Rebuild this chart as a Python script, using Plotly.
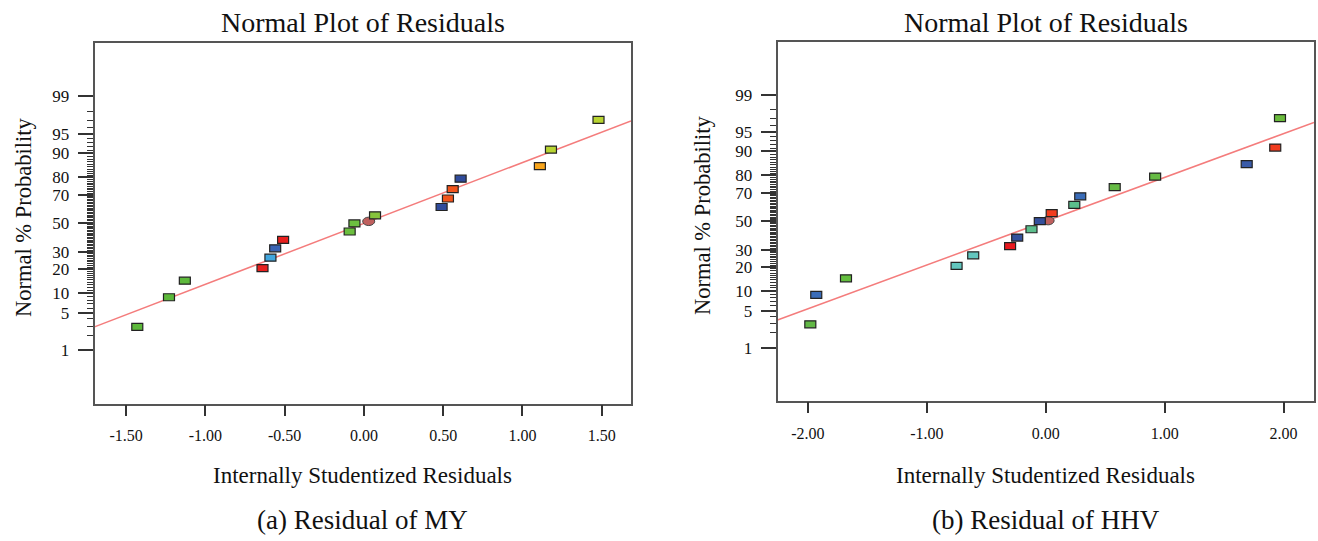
import plotly.graph_objects as go
from statistics import NormalDist

# ---------------- data ----------------
prob_ticks = [1, 5, 10, 20, 30, 50, 70, 80, 90, 95, 99]
prob_tick_text = ["1", "5", "10", "20", "30", "50", "70", "80", "90", "95", "99"]
minor_probs = [p for p in range(1, 100) if p not in prob_ticks]

my_x_ticks = [-1.5, -1.0, -0.5, 0.0, 0.5, 1.0, 1.5]
my_x_text = ["-1.50", "-1.00", "-0.50", "0.00", "0.50", "1.00", "1.50"]
hhv_x_ticks = [-2.0, -1.0, 0.0, 1.0, 2.0]
hhv_x_text = ["-2.00", "-1.00", "0.00", "1.00", "2.00"]

# (a) Residual of MY
my_resid = [-1.43, -1.23, -1.13, -0.64, -0.59, -0.56, -0.51, -0.09, -0.06,
            0.07, 0.49, 0.53, 0.56, 0.61, 1.11, 1.18, 1.48]
my_prob = [2.9, 8.8, 14.7, 20.6, 26.5, 32.4, 38.2, 44.1, 50.0,
           55.9, 61.8, 67.6, 73.5, 79.4, 85.3, 91.2, 97.1]
my_colors = ["#5CB83A", "#5CB83A", "#5EBA3C", "#E8201E", "#41A6DE", "#3B64B4",
             "#E8201E", "#6CBF3F", "#6CBF3F", "#86C43C", "#2F4B9B", "#F2541C",
             "#F2541C", "#2F4B9B", "#F7A41B", "#B8D432", "#B8D432"]
my_center = [0.03]
my_center_prob = [51.5]
my_fit_slope = 1.115
my_fit_intercept = 0.0

# (b) Residual of HHV
hhv_resid = [-1.98, -1.93, -1.68, -0.75, -0.61, -0.30, -0.24, -0.12, -0.05,
             0.05, 0.24, 0.29, 0.58, 0.92, 1.69, 1.93, 1.97]
hhv_prob = [2.9, 8.8, 14.7, 20.6, 26.5, 32.4, 38.2, 44.1, 50.0,
            55.9, 61.8, 67.6, 73.5, 79.4, 85.3, 91.2, 97.1]
hhv_colors = ["#62B846", "#3A6CB8", "#63BE3E", "#62C6BE", "#62C6BE", "#E8191E",
              "#34509C", "#5CBE8C", "#34509C", "#F23C1E", "#5CBE8C", "#3A6CB8",
              "#66BB44", "#66BB44", "#3A5BA8", "#F03C1E", "#6ABB3C"]
hhv_center = [0.02]
hhv_center_prob = [50.4]
hhv_fit_slope = 0.805
hhv_fit_intercept = 0.0

# ---------------- helpers ----------------
nd = NormalDist()


def z(p):
    return nd.inv_cdf(p / 100.0)


W, H = 1318, 541
FONT = "Liberation Serif, Times New Roman, serif"
AXIS_COL = "#555555"
LINE_COL = "#F47C7C"

my_xrange = [-1.70, 1.685]
hhv_xrange = [-2.256, 2.256]
yrange = [-3.30, 3.30]

fig = go.Figure()


def add_panel(xs, probs, colors, cx, cp, slope, intercept, xr, xref, yref, name):
    # fitted line
    lx = [xr[0], xr[1]]
    ly = [slope * v + intercept for v in lx]
    fig.add_trace(go.Scatter(x=lx, y=ly, mode="lines", xaxis=xref, yaxis=yref,
                             line=dict(color=LINE_COL, width=1.5),
                             hoverinfo="skip", showlegend=False))
    zs = [z(p) for p in probs]
    # hover-only trace holding the points
    fig.add_trace(go.Scatter(x=xs, y=zs, mode="markers", xaxis=xref, yaxis=yref,
                             marker=dict(size=10, opacity=0), name=name,
                             text=[f"{p}%" for p in probs],
                             showlegend=False))
    # centre point (ellipse)
    for vx, vp in zip(cx, cp):
        fig.add_shape(type="circle", xref=xref, yref=yref,
                      xsizemode="pixel", ysizemode="pixel",
                      xanchor=vx, yanchor=z(vp), x0=-6, x1=6, y0=-4.2, y1=4.2,
                      fillcolor="#C0605E", line=dict(color="#444444", width=1))
    # rectangular markers
    for vx, vz, c in zip(xs, zs, colors):
        fig.add_shape(type="rect", xref=xref, yref=yref,
                      xsizemode="pixel", ysizemode="pixel",
                      xanchor=vx, yanchor=vz, x0=-5.5, x1=5.5, y0=-3.5, y1=3.5,
                      fillcolor=c, line=dict(color="#222222", width=1.2))


add_panel(my_resid, my_prob, my_colors, my_center, my_center_prob,
          my_fit_slope, my_fit_intercept, my_xrange, "x", "y", "MY")
add_panel(hhv_resid, hhv_prob, hhv_colors, hhv_center, hhv_center_prob,
          hhv_fit_slope, hhv_fit_intercept, hhv_xrange, "x2", "y2", "HHV")


def xaxis_cfg(domain, rng, tv, tt, anchor):
    return dict(domain=domain, range=rng, anchor=anchor,
                tickmode="array", tickvals=tv, ticktext=tt,
                ticks="outside", ticklen=11, tickwidth=1.5, tickcolor="#333333",
                showline=True, linecolor=AXIS_COL, linewidth=1.5, mirror=True,
                showgrid=False, zeroline=False, ticklabelstandoff=6,
                tickfont=dict(family=FONT, size=16, color="#111111"))


def yaxis_cfg(domain, anchor):
    return dict(domain=domain, range=yrange, anchor=anchor,
                tickmode="array", tickvals=[z(p) for p in prob_ticks],
                ticktext=prob_tick_text,
                ticks="outside", ticklen=15, tickwidth=1.5, tickcolor="#333333",
                minor=dict(tickmode="array", tickvals=[z(p) for p in minor_probs],
                           ticks="outside", ticklen=6, tickwidth=1,
                           tickcolor="#333333", showgrid=False),
                showline=True, linecolor=AXIS_COL, linewidth=1.5, mirror=True,
                showgrid=False, zeroline=False, ticklabelstandoff=5,
                tickfont=dict(family=FONT, size=17, color="#111111"))


L = dict(x0=94.5, x1=631.0, y0=43.3, y1=403.5)
R = dict(x0=777.5, x1=1314.0, y0=41.7, y1=400.7)


def xdom(b):
    return [b["x0"] / W, b["x1"] / W]


def ydom(b):
    return [1 - b["y1"] / H, 1 - b["y0"] / H]


fig.update_layout(
    width=W, height=H, autosize=False,
    margin=dict(l=0, r=0, t=0, b=0),
    paper_bgcolor="white", plot_bgcolor="white",
    showlegend=False,
    xaxis=xaxis_cfg(xdom(L), my_xrange, my_x_ticks, my_x_text, "y"),
    yaxis=yaxis_cfg(ydom(L), "x"),
    xaxis2=xaxis_cfg(xdom(R), hhv_xrange, hhv_x_ticks, hhv_x_text, "y2"),
    yaxis2=yaxis_cfg(ydom(R), "x2"),
    font=dict(family=FONT, color="#111111"),
)

anns = []
for b, cap in [(L, "(a) Residual of MY"), (R, "(b) Residual of HHV")]:
    cx = (b["x0"] + b["x1"]) / 2 / W
    anns.append(dict(text="Normal Plot of Residuals", x=cx, y=1 - 23 / H,
                     xref="paper", yref="paper", showarrow=False,
                     xanchor="center", yanchor="middle",
                     font=dict(family=FONT, size=28, color="#111111")))
    anns.append(dict(text="Internally Studentized Residuals", x=cx, y=1 - 475 / H,
                     xref="paper", yref="paper", showarrow=False,
                     xanchor="center", yanchor="middle",
                     font=dict(family=FONT, size=23, color="#111111")))
    anns.append(dict(text=cap, x=cx, y=1 - 520 / H,
                     xref="paper", yref="paper", showarrow=False,
                     xanchor="center", yanchor="middle",
                     font=dict(family=FONT, size=27, color="#111111")))
for px, py in [(23, 218), (703, 216)]:
    anns.append(dict(text="Normal % Probability", x=px / W, y=1 - py / H,
                     xref="paper", yref="paper", showarrow=False, textangle=-90,
                     xanchor="center", yanchor="middle",
                     font=dict(family=FONT, size=22.5, color="#111111")))
fig.update_layout(annotations=anns)

fig.write_html(
    "out.html",
    config={"displayModeBar": False},
    post_script="document.body.style.margin='0';document.body.style.padding='0';"
                "document.body.style.overflow='hidden';",
)
